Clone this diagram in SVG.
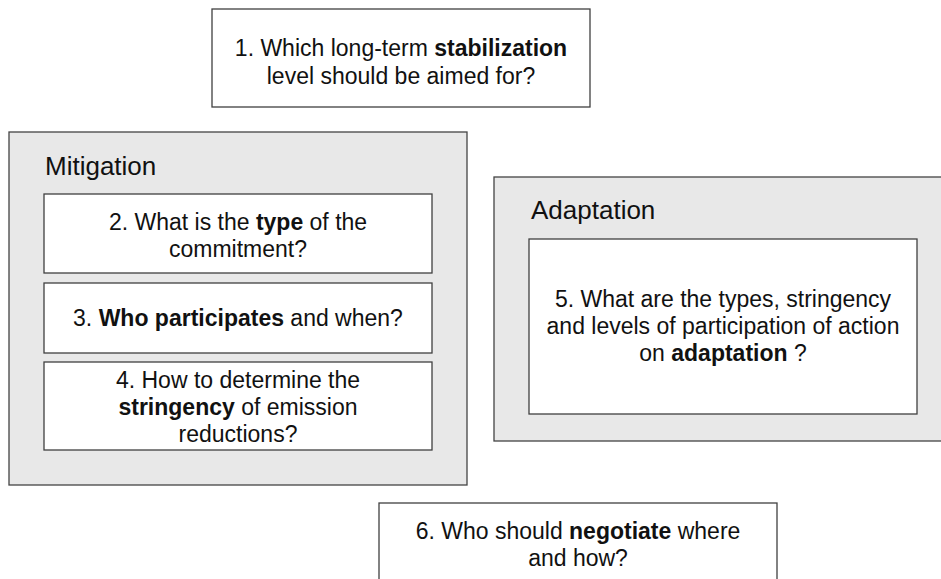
<svg xmlns="http://www.w3.org/2000/svg" width="941" height="579" viewBox="0 0 941 579">
<style>
.box{fill:#ffffff;stroke:#404040;stroke-width:1.3}
.group{fill:#e8e8e8;stroke:#444444;stroke-width:1.3}
text{font-family:"Liberation Sans",Arial,sans-serif;fill:#111111}
.t{font-size:23px;text-anchor:middle}
.title{font-size:26px}
.b{font-weight:bold}
</style>
<rect width="941" height="579" fill="#ffffff"/>
<g id="n1">
<rect class="box" x="212" y="9" width="378" height="98"/>
<text class="t" x="401" y="56">1. Which long-term <tspan class="b">stabilization</tspan></text>
<text class="t" x="401" y="84">level should be aimed for?</text>
</g>
<g id="mitigation">
<rect class="group" x="9" y="132" width="458" height="353"/>
<text class="title" x="45" y="175">Mitigation</text>
</g>
<g id="n2">
<rect class="box" x="44" y="194" width="388" height="79"/>
<text class="t" x="238" y="230">2. What is the <tspan class="b">type</tspan> of the</text>
<text class="t" x="238" y="257">commitment?</text>
</g>
<g id="n3">
<rect class="box" x="44" y="283" width="388" height="70"/>
<text class="t" x="238" y="326">3. <tspan class="b">Who participates</tspan> and when?</text>
</g>
<g id="n4">
<rect class="box" x="44" y="362" width="388" height="88"/>
<text class="t" x="238" y="388">4. How to determine the</text>
<text class="t" x="238" y="415"><tspan class="b">stringency</tspan> of emission</text>
<text class="t" x="238" y="442">reductions?</text>
</g>
<g id="adaptation">
<rect class="group" x="494" y="177" width="460" height="264"/>
<text class="title" x="531" y="219">Adaptation</text>
</g>
<g id="n5">
<rect class="box" x="529" y="239" width="388" height="175"/>
<text class="t" x="723" y="307">5. What are the types, stringency</text>
<text class="t" x="723" y="334">and levels of participation of action</text>
<text class="t" x="723" y="361">on <tspan class="b">adaptation</tspan> ?</text>
</g>
<g id="n6">
<rect class="box" x="379" y="503" width="398" height="90"/>
<text class="t" x="578" y="539">6. Who should <tspan class="b">negotiate</tspan> where</text>
<text class="t" x="578" y="566">and how?</text>
</g>
<g id="connectors"></g>
</svg>
